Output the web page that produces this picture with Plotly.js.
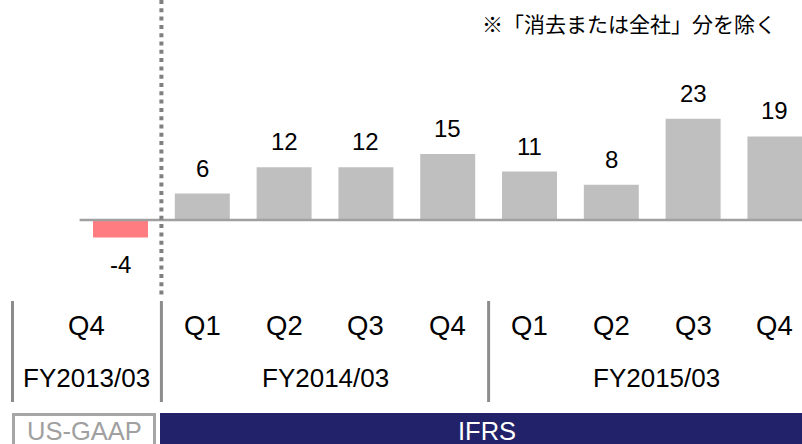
<!DOCTYPE html>
<html>
<head>
<meta charset="utf-8">
<script src="https://cdn.plot.ly/plotly-3.0.1.min.js"></script>
<style>
html,body{margin:0;padding:0;background:#fff;}
#chart{width:802px;height:444px;}
</style>
</head>
<body>
<div id="chart"></div>
<script>
// ---- data ----
var quarters = ["Q4","Q1","Q2","Q3","Q4","Q1","Q2","Q3","Q4"];
var quarterFY = [0, 1, 1, 1, 1, 2, 2, 2, 2];   // index into fiscalYears
var values = [-4, 6, 12, 12, 15, 11, 8, 23, 19];
var fiscalYears = ["FY2013/03","FY2014/03","FY2015/03"];
var standards = ["US-GAAP","IFRS"];
var note = "※「消去または全社」分を除く";

// ---- layout helpers ----
var W = 802, H = 444;
function py(p){ return 1 - p / H; }   // pixel-from-top -> paper y
function px(p){ return p / W; }       // pixel-from-left -> paper x

var FONT = "Liberation Sans, Arial, sans-serif";
var xIdx = quarters.map(function(_, i){ return i; });

var barColors = values.map(function(v){ return v < 0 ? "#FF7C80" : "#BFBFBF"; });

var trace = {
  type: "bar",
  x: xIdx,
  y: values,
  width: 0.672,
  marker: {color: barColors, line: {width: 0}},
  hoverinfo: "skip"
};

var groupBounds = [-1.32, 0.5, 4.5, 8.6];
function groupCenter(k){ return (groupBounds[k] + groupBounds[k+1]) / 2; }

var annotations = [];
// value labels
values.forEach(function(v, i){
  annotations.push({
    x: i, y: v, xref: "x", yref: "y",
    text: String(v), showarrow: false,
    xanchor: "center",
    yanchor: v < 0 ? "top" : "bottom",
    yshift: v < 0 ? -11 : 10,
    font: {family: FONT, size: 24, color: "#000"}
  });
});
// quarter labels (a lone quarter is centred in its fiscal-year box)
quarters.forEach(function(q, i){
  var k = quarterFY[i];
  var count = quarterFY.filter(function(f){ return f === k; }).length;
  annotations.push({
    x: count === 1 ? groupCenter(k) : i, y: py(325), xref: "x", yref: "paper",
    text: q, showarrow: false, xanchor: "center", yanchor: "middle",
    font: {family: FONT, size: 27.5, color: "#000"}
  });
});
// fiscal year labels (centred between separators)
fiscalYears.forEach(function(fy, k){
  annotations.push({
    x: groupCenter(k), y: py(378), xref: "x", yref: "paper",
    text: fy, showarrow: false, xanchor: "center", yanchor: "middle",
    font: {family: FONT, size: 26, color: "#000"}
  });
});
// accounting standard labels
annotations.push({
  x: px(84), y: py(431), xref: "paper", yref: "paper",
  text: standards[0], showarrow: false, xanchor: "center", yanchor: "middle",
  font: {family: FONT, size: 25.5, color: "#A0A0A0"}
});
annotations.push({
  x: px(487), y: py(431), xref: "paper", yref: "paper",
  text: standards[1], showarrow: false, xanchor: "center", yanchor: "middle",
  font: {family: FONT, size: 25.5, color: "#FFFFFF"}
});
// note
annotations.push({
  x: px(629), y: py(23), xref: "paper", yref: "paper",
  text: note, showarrow: false, xanchor: "center", yanchor: "middle",
  font: {family: "Noto Sans CJK JP, sans-serif", size: 21, color: "#000"}
});

var shapes = [
  // baseline
  {type: "line", xref: "x", yref: "y", x0: -0.5, x1: 8.6, y0: 0, y1: 0,
   line: {color: "#A0A0A0", width: 2.5}},
  // dotted divider between standards
  {type: "line", xref: "x", yref: "paper", x0: 0.5, x1: 0.5, y0: 1, y1: py(297),
   line: {color: "#808080", width: 4, dash: "4px,4.3px"}},
  // group separators
  {type: "line", xref: "paper", yref: "paper", x0: px(12.5), x1: px(12.5), y0: py(301), y1: py(402),
   line: {color: "#8C8C8C", width: 3}},
  {type: "line", xref: "x", yref: "paper", x0: 0.5, x1: 0.5, y0: py(301), y1: py(402),
   line: {color: "#8C8C8C", width: 3}},
  {type: "line", xref: "x", yref: "paper", x0: 4.5, x1: 4.5, y0: py(301), y1: py(402),
   line: {color: "#8C8C8C", width: 3}},
  // US-GAAP box
  {type: "rect", xref: "paper", yref: "paper", x0: px(13.5), x1: px(154.5), y0: py(414.5), y1: py(460),
   line: {color: "#A6A6A6", width: 3}, fillcolor: "#FFFFFF"},
  // IFRS band
  {type: "rect", xref: "paper", yref: "paper", x0: px(160), x1: px(802), y0: py(413), y1: py(444),
   line: {width: 0}, fillcolor: "#22226A"}
];

var layout = {
  width: W, height: H,
  margin: {l: 0, r: 0, t: 0, b: 0, pad: 0},
  paper_bgcolor: "#FFFFFF", plot_bgcolor: "#FFFFFF",
  showlegend: false,
  hovermode: false,
  xaxis: {range: [-1.473, 8.331], showgrid: false, zeroline: false, showticklabels: false,
          ticks: "", showline: false, fixedrange: true},
  yaxis: {range: [-50.9, 50], showgrid: false, zeroline: false, showticklabels: false,
          ticks: "", showline: false, fixedrange: true},
  shapes: shapes,
  annotations: annotations
};

Plotly.newPlot("chart", [trace], layout, {displayModeBar: false, staticPlot: true});
</script>
</body>
</html>
